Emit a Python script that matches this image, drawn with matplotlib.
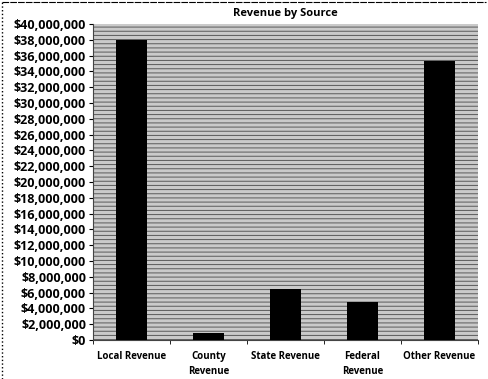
import matplotlib
matplotlib.use("Agg")
import matplotlib.pyplot as plt
import matplotlib.ticker as mticker
from matplotlib.patches import Rectangle
from matplotlib.lines import Line2D

# revenue by source
sources = ["Local Revenue", "County\nRevenue", "State Revenue", "Federal\nRevenue", "Other Revenue"]
revenue = [38000000, 900000, 6400000, 4800000, 35300000]
y_ticks = list(range(0, 40000001, 2000000))

plt.rcParams['font.family'] = ['Open Sans', 'DejaVu Sans']
plt.rcParams['hatch.color'] = '#5a5a5a'
plt.rcParams['hatch.linewidth'] = 0.7

fig = plt.figure(figsize=(4.88, 3.79), dpi=100)
ax = fig.add_axes([93/488, 1 - 340/379, 385/488, 316/379])

# scanned gray striped background
ax.set_facecolor('#c4c4c4')
bg = Rectangle((0, 0), 1, 1, transform=ax.transAxes, facecolor='#cacaca',
               edgecolor='#5a5a5a', hatch='----', linewidth=0, zorder=0)
ax.add_patch(bg)

x = range(len(sources))
ax.bar(x, revenue, width=0.39, color='black', zorder=3)

ax.set_xlim(-0.5, len(sources) - 0.5)
ax.set_ylim(0, 40000000)
ax.set_yticks(y_ticks)
ax.yaxis.set_major_formatter(mticker.FuncFormatter(lambda v, p: "${:,.0f}".format(v)))
ax.set_xticks(x)
ax.set_xticklabels(sources, fontsize=7, fontweight='bold', linespacing=1.5)
ax.set_xticks([i + 0.5 for i in range(-1, len(sources))], minor=True)
ax.tick_params(axis='y', labelsize=9, length=3, pad=2)
ax.tick_params(axis='x', which='major', length=0, pad=8)
ax.tick_params(axis='x', which='minor', length=3)
for lbl in ax.get_yticklabels():
    lbl.set_fontweight('bold')

for s in ['top', 'right']:
    ax.spines[s].set_visible(False)
ax.spines['left'].set_color('#444444')
ax.spines['bottom'].set_color('#444444')

ax.set_title("Revenue by Source", fontsize=8, fontweight='bold', pad=6)

# outer chart frame (top and left edges only show in the scan)
fig.add_artist(Line2D([0.004, 0.996], [0.995, 0.995], transform=fig.transFigure,
                      color='black', linewidth=0.8, linestyle=(0, (6, 1))))
fig.add_artist(Line2D([0.005, 0.005], [0.0, 0.995], transform=fig.transFigure,
                      color='black', linewidth=1, linestyle=':'))

fig.savefig("out.png", dpi=100)
